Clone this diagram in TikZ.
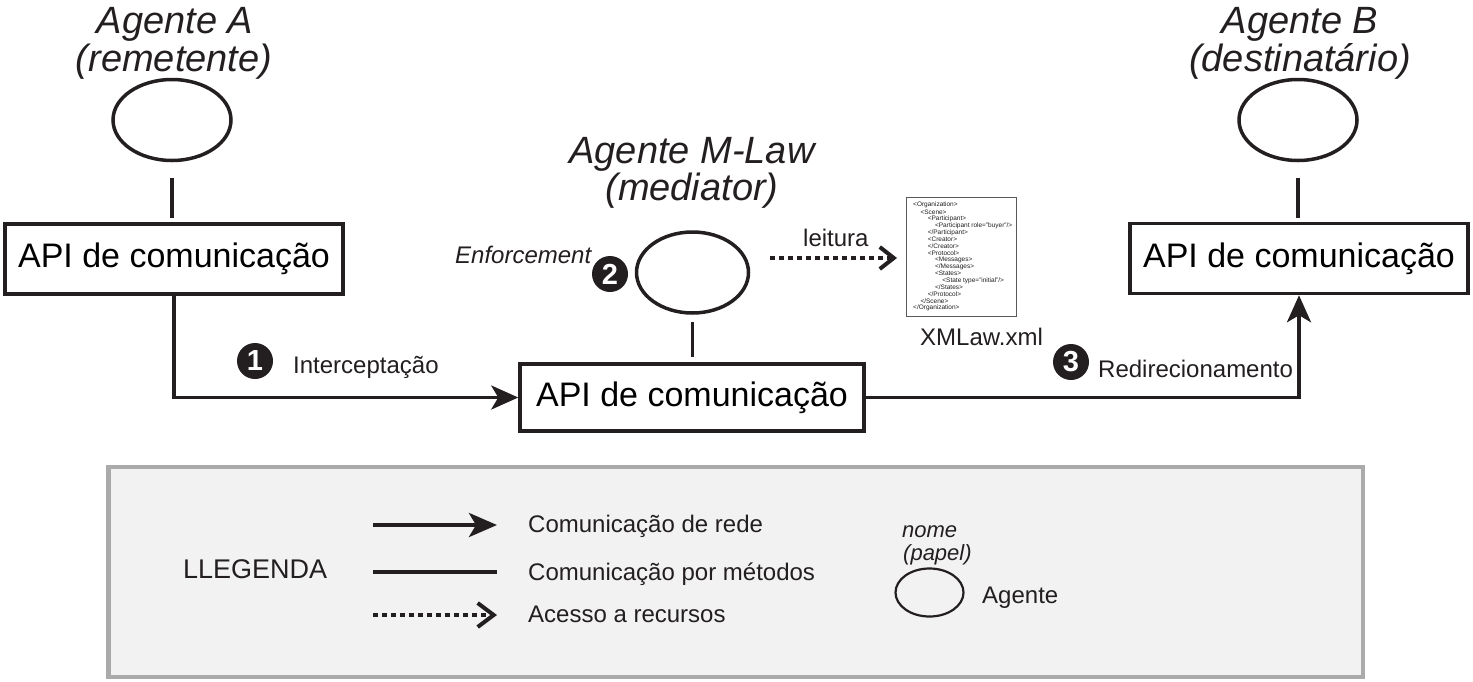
\documentclass[tikz,border=0pt]{standalone}
\usepackage{fontspec}
\setmainfont{Liberation Sans}
\usetikzlibrary{arrows.meta,shapes.geometric}
\definecolor{numc}{RGB}{35,31,32}
\definecolor{legf}{RGB}{242,242,242}
\definecolor{legb}{RGB}{170,170,170}
\definecolor{ink}{RGB}{35,31,32}
\begin{document}
\begin{tikzpicture}[x=1pt,y=-1pt,
  fs/.style={font=\fontsize{#1}{#1}\selectfont},
  ln/.style={line width=3.5pt,draw=ink},
  box/.style={draw=ink,line width=3.5pt,rectangle,inner sep=0pt,minimum width=338pt,minimum height=70pt,font=\fontsize{34}{34}\selectfont},
  agent/.style={draw=ink,line width=3.5pt,ellipse,inner sep=0pt,minimum width=118pt,minimum height=81pt},
  arr/.style={ln,-{Stealth[length=27pt,width=24pt,inset=7pt]}},
  dotarr/.style={line width=4pt,draw=ink,dash pattern=on 4.5pt off 4.5pt,-{Straight Barb[length=14pt,width=22pt,line width=4pt]}},
  num/.style={circle,fill=numc,text=white,inner sep=0pt,minimum size=36pt,font=\fontsize{29}{29}\selectfont\bfseries},
  lbl/.style={anchor=base west,inner sep=0pt,text=ink,font=\fontsize{24}{24}\selectfont},
  title/.style={anchor=base,inner sep=0pt,text=ink,font=\fontsize{38}{38}\selectfont\itshape},
  xml/.style={anchor=west,inner sep=0pt,text=ink,font=\fontsize{6.5}{6.5}\selectfont}
]
\useasboundingbox[fill=white] (0,0) rectangle (1473,681);

% ---------- Agent A ----------
\node[title] (tA1) at (175,33) {Agente A};
\node[title] (tA2) at (174,71) {(remetente)};
\node[agent] (eA) at (172,120) {};
\node[box] (bA) at (174,259) {API de comunicação};
\draw[ln,shorten <=16pt,shorten >=4pt] (eA.south) -- (eA.south |- bA.north);

% ---------- Agent M-Law ----------
\node[title] (tM1) at (692,163) {Agente M-Law};
\node[title] (tM2) at (692,200) {(mediator)};
\node[agent,minimum width=112pt,minimum height=81pt] (eM) at (692.5,272.5) {};
\node[box,minimum width=344pt,minimum height=67pt] (bM) at (692,397.5) {API de comunicação};
\draw[ln,shorten <=7pt,shorten >=5pt] (eM.south) -- (eM.south |- bM.north);
\node[lbl,font=\fontsize{24}{24}\selectfont\itshape] (enf) at (455,263) {Enforcement};
\node[num] (n2) at (610,274) {2};

% ---------- Agent B ----------
\node[title] (tB1) at (1300,33) {Agente B};
\node[title] (tB2) at (1300,71) {(destinatário)};
\node[agent] (eB) at (1298,120) {};
\node[box] (bB) at (1299,258.5) {API de comunicação};
\draw[ln,shorten <=16pt,shorten >=4pt] (eB.south) -- (eB.south |- bB.north);

% ---------- XML document ----------
\node[draw=black!65,line width=1pt,fill=white,minimum width=110pt,minimum height=119pt,inner sep=0pt] (doc) at (961.5,256.5) {};
\node[xml] (x1)  at (913.0,205.0) {<Organization>};
\node[xml] (x2)  at (920.3,211.9) {<Scene>};
\node[xml] (x3)  at (927.6,218.7) {<Participant>};
\node[xml] (x4)  at (934.9,225.6) {<Participant role="buyer"/>};
\node[xml] (x5)  at (927.6,232.5) {</Participant>};
\node[xml] (x6)  at (927.6,239.4) {<Creator>};
\node[xml] (x7)  at (927.6,246.2) {</Creator>};
\node[xml] (x8)  at (927.6,253.1) {<Protocol>};
\node[xml] (x9)  at (934.9,260.0) {<Messages>};
\node[xml] (x10) at (934.9,266.8) {</Messages>};
\node[xml] (x11) at (934.9,273.7) {<States>};
\node[xml] (x12) at (942.2,280.6) {<State type="initial"/>};
\node[xml] (x13) at (934.9,287.4) {</States>};
\node[xml] (x14) at (927.6,294.3) {</Protocol>};
\node[xml] (x15) at (920.3,301.2) {</Scene>};
\node[xml] (x16) at (913.0,308.0) {</Organization>};
\node[lbl] (xname) at (920,345) {XMLaw.xml};

% reading arrow
\coordinate (r1) at (770,258);
\coordinate (r2) at (897,258);
\draw[dotarr] (r1) -- (r2);
\node[lbl] (leit) at (803,246) {leitura};

% ---------- message flow ----------
\draw[arr] (bA.south) |- (bM.west);
\node[num] (n1) at (255,361) {1};
\node[lbl] (int) at (293,373) {Interceptação};

\draw[arr] (bM.east) -| (bB.south);
\node[num] (n3) at (1071,362) {3};
\node[lbl] (red) at (1098,377) {Redirecionamento};

% ---------- legend ----------
\draw[draw=legb,fill=legf,line width=4.5pt] (108.5,467) rectangle (1363,677);
\node[lbl,font=\fontsize{27}{27}\selectfont] (leg) at (183,578) {LLEGENDA};

\coordinate (l1a) at (373,525); \coordinate (l1b) at (497,525);
\coordinate (l2a) at (373,572); \coordinate (l2b) at (497,572);
\coordinate (l3a) at (373,615); \coordinate (l3b) at (497,615);
\draw[arr,line width=4pt,-{Stealth[length=28pt,width=24pt,inset=7pt]}] (l1a) -- (l1b);
\draw[ln,line width=4pt] (l2a) -- (l2b);
\draw[dotarr,-{Straight Barb[length=16pt,width=24pt,line width=4pt]}] (l3a) -- (l3b);
\node[lbl] (lt1) at (528,532) {Comunicação de rede};
\node[lbl] (lt2) at (528,580) {Comunicação por métodos};
\node[lbl] (lt3) at (528,622) {Acesso a recursos};

\node[lbl,font=\fontsize{22}{22}\selectfont\itshape] (nome) at (902,537) {nome};
\node[lbl,font=\fontsize{22}{22}\selectfont\itshape] (papel) at (903,560) {(papel)};
\node[draw=ink,line width=2.2pt,ellipse,inner sep=0pt,minimum width=68pt,minimum height=48pt] (eL) at (929.5,592.5) {};
\node[lbl] (ag) at (982,603) {Agente};
\end{tikzpicture}
\end{document}
